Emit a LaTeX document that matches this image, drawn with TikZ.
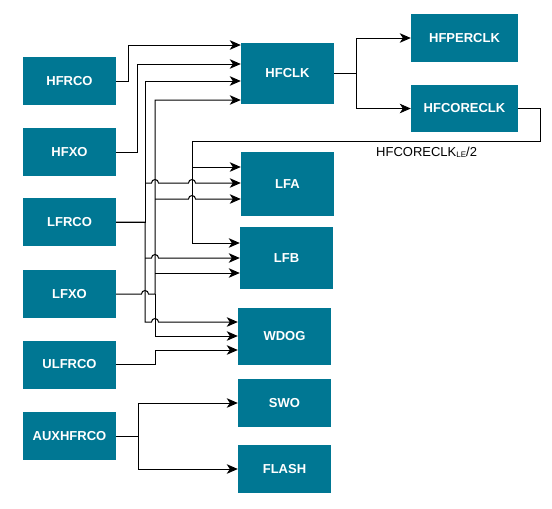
\documentclass[tikz,border=0pt]{standalone}
\usepackage{fontspec}
\setmainfont{Liberation Sans}
\usetikzlibrary{arrows.meta}
\definecolor{boxteal}{HTML}{007793}
\begin{document}
\begin{tikzpicture}[x=1pt,y=-1pt,
  blk/.style={rectangle,draw=none,fill=boxteal,text=white,inner sep=0pt,
    font=\fontsize{13}{15}\selectfont\bfseries,minimum width=93pt,minimum height=48pt},
  arr/.style={line width=1pt,-{Stealth[length=11pt,width=9.5pt,inset=3pt]}},
  jr/.style={radius=3.5pt,start angle=180,end angle=0}]
\useasboundingbox (0,0) rectangle (552,509);
% sources
\node[blk] (HFRCO) at (69.5,81) {HFRCO};
\node[blk] (HFXO) at (69.5,152) {HFXO};
\node[blk] (LFRCO) at (69.5,222) {LFRCO};
\node[blk] (LFXO) at (69.5,294) {LFXO};
\node[blk] (ULFRCO) at (69.5,364.5) {ULFRCO};
\node[blk] (AUXHFRCO) at (69.5,436) {AUXHFRCO};
% targets
\node[blk,minimum height=61pt] (HFCLK) at (287.5,73.5) {HFCLK};
\node[blk,minimum height=64pt] (LFA) at (287.5,184) {LFA};
\node[blk,minimum height=62pt] (LFB) at (286.5,258) {LFB};
\node[blk,minimum height=57pt] (WDOG) at (284.5,336.5) {WDOG};
\node[blk] (SWO) at (284.5,403) {SWO};
\node[blk] (FLASH) at (284.5,469) {FLASH};
\node[blk,minimum width=107pt] (HFPERCLK) at (464.5,38) {HFPERCLK};
\node[blk,minimum width=107pt,minimum height=47pt] (HFCORECLK) at (464.5,108.5) {HFCORECLK};
\node[anchor=base west,inner sep=0pt,font=\fontsize{13}{15}\selectfont] (lbl) at (376,156)
  {HFCORECLK\raisebox{-1pt}{\fontsize{8}{9}\selectfont LE}/2};
% HFRCO, HFXO
\draw[arr] (HFRCO.east) -| (128,45) -- (HFCLK.west |- 0,45);
\draw[arr] (HFXO.east) -| (137,64) -- (HFCLK.west |- 0,64);
% LFRCO trunk x=145
\draw[arr] (LFRCO.east) -| (145,81) -- (HFCLK.west |- 0,81);
\draw[arr] (LFRCO.east) -| (145,322) -- (151.5,322) arc[jr] -- (WDOG.west |- 0,322);
\draw[arr] (145,183) -- (151.5,183) arc[jr] -- (188.5,183) arc[jr] -- (LFA.west |- 0,183);
\draw[arr] (145,258) -- (151.5,258) arc[jr] -- (LFB.west |- 0,258);
% LFXO trunk x=155
\draw[arr] (LFXO.east) -- (141.5,294) arc[jr] -| (155,100) -- (HFCLK.west |- 0,100);
\draw[arr] (155,294) -- (155,336) -- (WDOG.west |- 0,336);
\draw[arr] (155,199) -- (188.5,199) arc[jr] -- (LFA.west |- 0,199);
\draw[arr] (155,273) -- (LFB.west |- 0,273);
% ULFRCO
\draw[arr] (ULFRCO.east) -| (155,350) -- (WDOG.west |- 0,350);
% HFCLK outputs
\draw[arr] (HFCLK.east) -| (356,38) -- (HFPERCLK.west);
\draw[arr] (HFCLK.east) -| (356,108.5) -- (HFCORECLK.west);
% HFCORECLK return
\draw[arr] (HFCORECLK.east) -| (540,141) -| (192,167) -- (LFA.west |- 0,167);
\draw[arr] (192,167) -- (192,243) -- (LFB.west |- 0,243);
% AUXHFRCO
\draw[arr] (AUXHFRCO.east) -| (138,403) -- (SWO.west);
\draw[arr] (AUXHFRCO.east) -| (138,469) -- (FLASH.west);
\end{tikzpicture}
\end{document}
